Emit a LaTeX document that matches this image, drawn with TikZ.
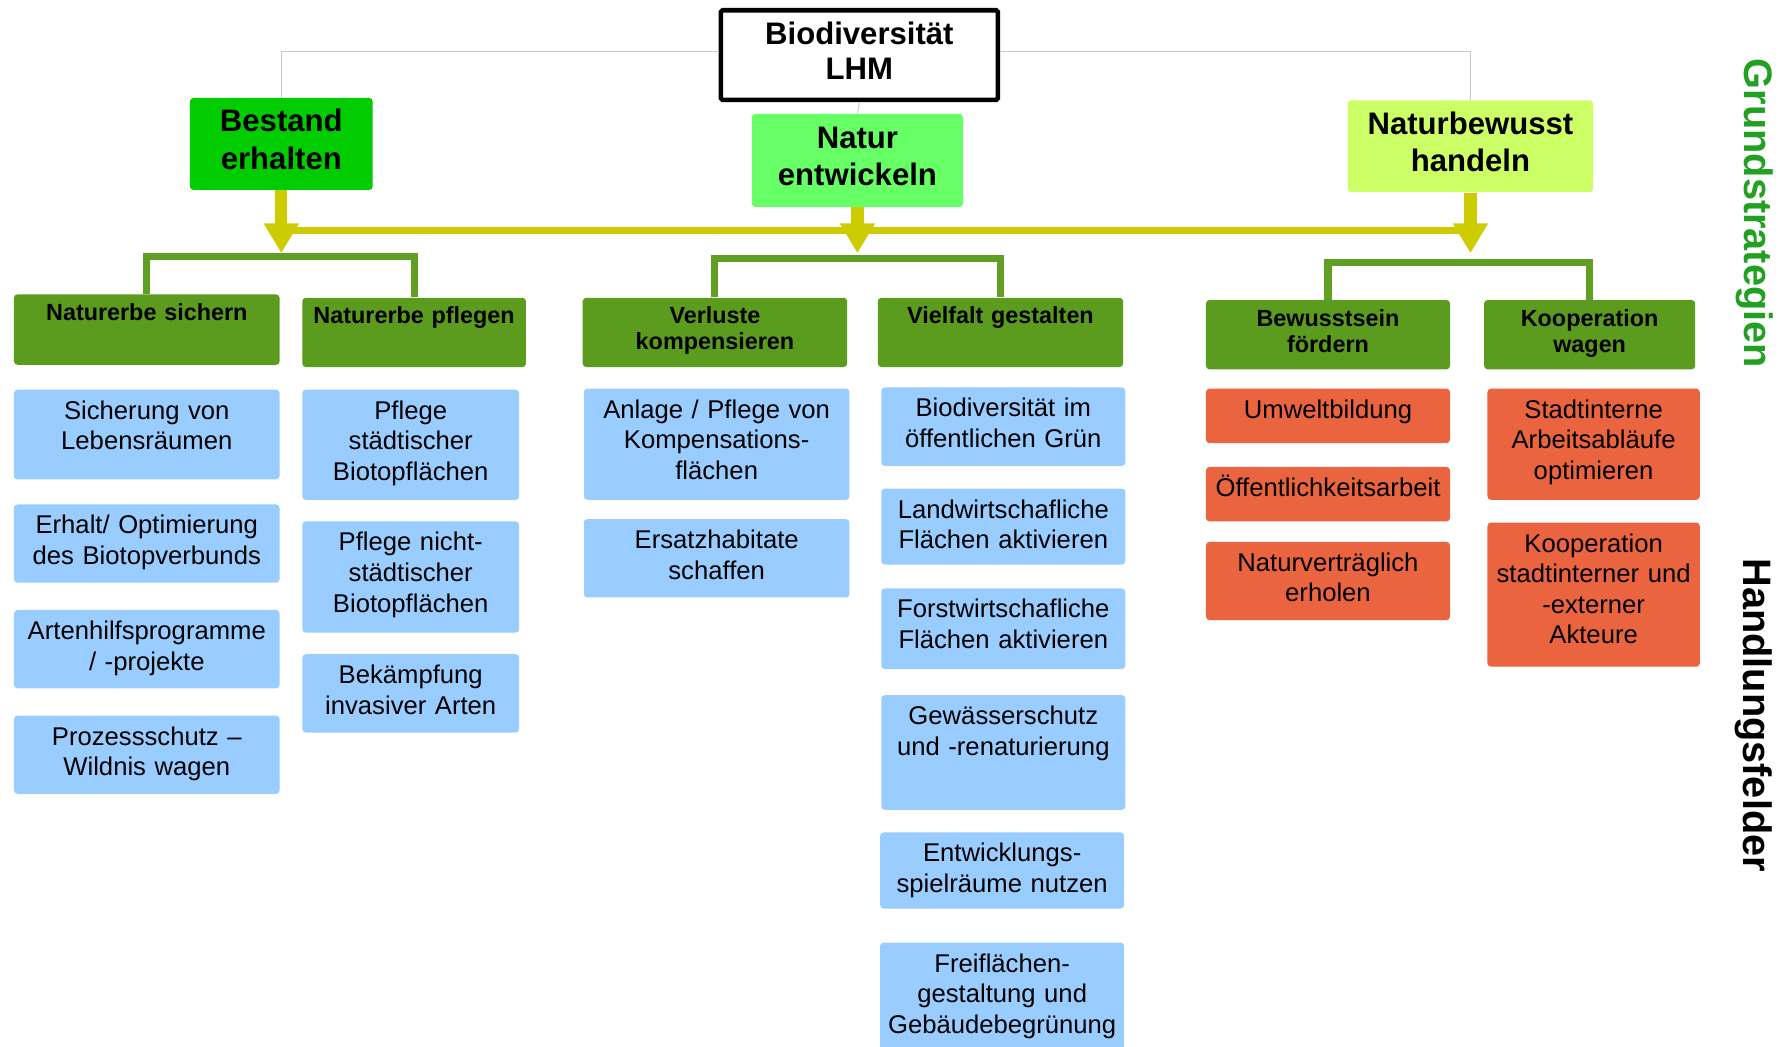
\documentclass[tikz,border=0pt]{standalone}
\usepackage{fontspec}
\setmainfont{Liberation Sans}
\usetikzlibrary{arrows.meta}

\definecolor{bestand}{RGB}{0,204,0}
\definecolor{natur}{RGB}{102,255,102}
\definecolor{bewusst}{RGB}{204,255,102}
\definecolor{dunkelgruen}{RGB}{91,155,30}
\definecolor{klammergruen}{RGB}{96,158,36}
\definecolor{gelb}{RGB}{204,204,0}
\definecolor{hblau}{RGB}{153,204,255}
\definecolor{hrot}{RGB}{234,100,64}
\definecolor{gsgruen}{RGB}{34,160,34}

\newcommand\px{0.0227cm}
\newcommand\feldtop{16.8pt}

\tikzset{
  ftop/.code={\def\feldtop{#1}},
  % box=breite/hoehe (in Bildpunkten), Text mittig
  box/.code args={#1/#2}{%
    \pgfmathsetlengthmacro\boxw{#1*\px}%
    \pgfmathsetlengthmacro\boxh{#2*\px}%
    \edef\boxset{\noexpand\pgfkeysalso{minimum width=\boxw, minimum height=\boxh}}\boxset},
  % feld=breite/hoehe, Text oben
  feld/.code args={#1/#2}{%
    \pgfmathsetlengthmacro\boxw{#1*\px}%
    \pgfmathsetlengthmacro\boxd{#2*\px-\feldtop}%
    \edef\boxset{\noexpand\pgfkeysalso{text width=\boxw, text height=\feldtop, text depth=\boxd}}\boxset},
  strat/.style={box=#1, text height=34.3pt, text depth=5.5pt, font=\bfseries\fontsize{17.7}{21.3}\selectfont},
  kfeld/.style={ftop=14.8pt, fill=dunkelgruen, font=\bfseries\fontsize{13.3}{14.8}\selectfont, feld=#1},
  hfeld/.style={ftop=16.8pt, fill=hblau, font=\fontsize{14.6}{17.4}\selectfont, feld=#1},
  ofeld/.style={hfeld=#1, fill=hrot},
  gpfeil/.style={draw=gelb, line width=7pt, -{Triangle[width=19pt,length=17pt]}},
  gquer/.style={draw=gelb, line width=3.6pt},
  klammer/.style={draw=klammergruen, line width=4pt},
  duenn/.style={draw=black!22, line width=0.5pt},
  seite/.style={rotate=-90, font=\bfseries\fontsize{22.6}{26}\selectfont},
}

\begin{document}
\begin{tikzpicture}[x=\px, y=-\px, every node/.style={inner sep=0pt, anchor=north west, align=center, rounded corners=2pt}]
    \useasboundingbox (0,0) rectangle (1568,922);
    %% Kopf und Grundstrategien
    \node[strat=244/79, draw, line width=2.6pt, fill=white, rounded corners=1pt,
          text height=33pt, font=\bfseries\fontsize{17.7}{20}\selectfont] (bio) at (633,7) {Biodiversität\\LHM};
    \node[strat=161/81, fill=bestand] (be) at (167,86) {Bestand\\erhalten};
    \node[strat=186/82, fill=natur] (ne) at (662,100) {Natur\\entwickeln};
    \node[strat=216/81, fill=bewusst] (nh) at (1187,88) {Naturbewusst\\handeln};
    \draw[duenn] ([yshift=2pt]bio.west) -| (be.north);
    \draw[duenn] ([yshift=2pt]bio.east) -| (nh.north);
    \draw[duenn] (bio.south) -- (ne.north);

    %% Handlungsfelder
    \node[kfeld=234/62] (ns) at (12,259) {Naturerbe sichern};
    \node[kfeld=197/61] (np) at (266,262) {Naturerbe pflegen};
    \node[kfeld=233/61] (vk) at (513,262) {Verluste\\kompensieren};
    \node[kfeld=216/61] (vg) at (773,262) {Vielfalt gestalten};
    \node[kfeld=215/61] (bf) at (1062,264) {Bewusstsein\\fördern};
    \node[kfeld=186/61] (kw) at (1307,264) {Kooperation\\wagen};

    %% gelbe Pfeile und Klammern
    \coordinate (quer) at (0,203);
    \coordinate (spitze) at (0,223);
    \coordinate (b1) at (0,226);
    \coordinate (b2) at (0,228);
    \coordinate (b3) at (0,231);
    \draw[gquer] (be.south |- quer) -- (nh.south |- quer);
    \draw[gpfeil] (be.south) -- (be.south |- spitze);
    \draw[gpfeil] (ne.south) -- (ne.south |- spitze);
    \draw[gpfeil] (nh.south) -- (nh.south |- spitze);
    \draw[klammer] (ns.north) |- (np.north |- b1) -- (np.north);
    \draw[klammer] (vk.north) |- (vg.north |- b2) -- (vg.north);
    \draw[klammer] (bf.north) |- (kw.north |- b3) -- (kw.north);

    %% Naturerbe sichern
    \node[hfeld=234/79] (s1) at (12,343) {Sicherung von\\Lebensräumen};
    \node[hfeld=234/69] (s2) at (12,444) {Erhalt/ Optimierung\\des Biotopverbunds};
    \node[hfeld=234/69] (s3) at (12,537) {Artenhilfsprogramme\\/ -projekte};
    \node[hfeld=234/69] (s4) at (12,630) {Prozessschutz –\\Wildnis wagen};
    %% Naturerbe pflegen
    \node[hfeld=191/97] (p1) at (266,343) {Pflege\\städtischer\\Biotopflächen};
    \node[hfeld=191/98] (p2) at (266,459) {Pflege nicht-\\städtischer\\Biotopflächen};
    \node[hfeld=191/69] (p3) at (266,576) {Bekämpfung\\invasiver Arten};
    %% Verluste kompensieren
    \node[hfeld=234/98] (k1) at (514,342) {Anlage / Pflege von\\Kompensations-\\flächen};
    \node[hfeld=234/69] (k2) at (514,457) {Ersatzhabitate\\schaffen};
    %% Vielfalt gestalten
    \node[hfeld=215/69] (v1) at (776,341) {Biodiversität im\\öffentlichen Grün};
    \node[hfeld=215/67] (v2) at (776,430) {Landwirtschafliche\\Flächen aktivieren};
    \node[hfeld=215/71] (v3) at (776,518) {Forstwirtschafliche\\Flächen aktivieren};
    \node[hfeld=215/101] (v4) at (776,612) {Gewässerschutz\\und -renaturierung};
    \node[hfeld=215/67] (v5) at (775,733) {Entwicklungs-\\spielräume nutzen};
    \node[hfeld=215/100] (v6) at (775,830) {Freiflächen-\\gestaltung und\\Gebäudebegrünung};
    %% Bewusstsein foerdern
    \node[ofeld=215/48] (u1) at (1062,342) {Umweltbildung};
    \node[ofeld=215/48] (u2) at (1062,411) {Öffentlichkeitsarbeit};
    \node[ofeld=215/69] (u3) at (1062,477) {Naturverträglich\\erholen};
    %% Kooperation wagen
    \node[ofeld=187/98] (o1) at (1310,342) {Stadtinterne\\Arbeitsabläufe\\optimieren};
    \node[ofeld=187/127] (o2) at (1310,460) {Kooperation\\stadtinterner und\\-externer\\Akteure};

    %% Beschriftung rechts
    \node[seite, anchor=center, text=gsgruen] (gs) at (1546,188) {Grundstrategien};
    \node[seite, anchor=center] (hf) at (1545,630) {Handlungsfelder};
\end{tikzpicture}
\end{document}
